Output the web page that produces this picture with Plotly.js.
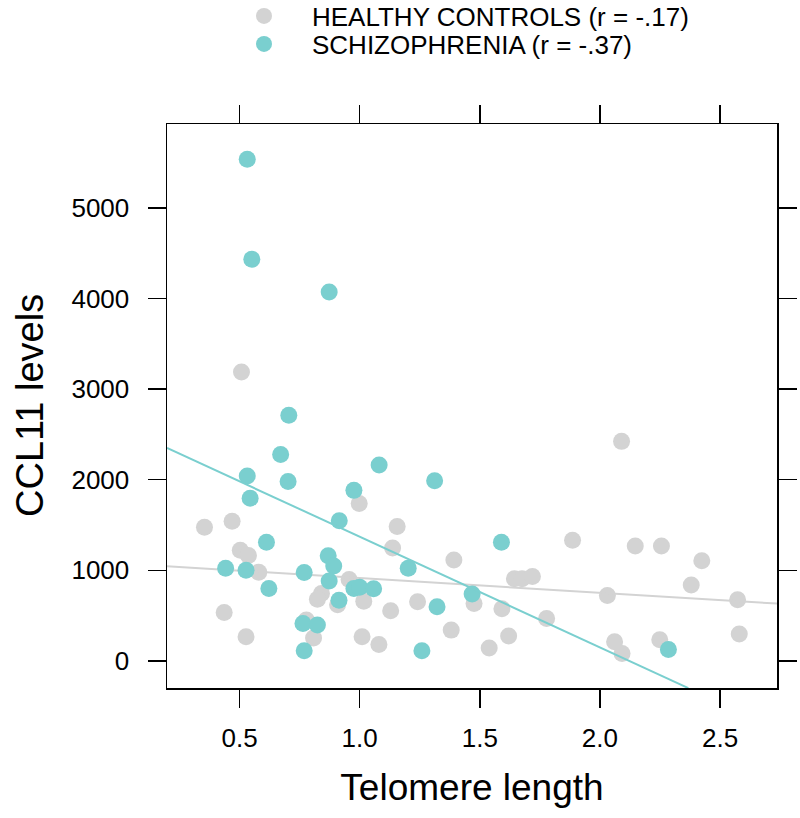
<!DOCTYPE html>
<html>
<head>
<meta charset="utf-8">
<script src="https://cdn.plot.ly/plotly-3.0.1.min.js"></script>
<style>html,body{margin:0;padding:0;background:#fff;}#chart{width:800px;height:818px;}</style>
</head>
<body>
<div id="chart"></div>
<script>
// Healthy controls: telomere length (x) and CCL11 levels (y)
const hcX = [0.508, 2.090, 0.998, 0.354, 0.469, 1.156, 1.137, 1.392, 1.886, 2.147, 2.256, 2.424,
  0.503, 0.537, 0.580, 0.956, 0.841, 0.824, 0.908, 1.017, 1.129, 1.241, 1.476, 1.592, 1.644,
  1.676, 1.719, 1.778, 2.031, 2.380, 2.573, 2.580, 0.436, 0.527, 0.778, 0.808, 1.010, 1.080,
  1.381, 1.539, 1.620, 2.061, 2.092, 2.249];
const hcY = [3188, 2423, 1736, 1474, 1542, 1482, 1246, 1113, 1332, 1267, 1267, 1104,
  1220, 1164, 979, 898, 743, 679, 619, 657, 554, 653, 632, 576, 906,
  906, 932, 468, 722, 838, 674, 296, 533, 266, 451, 253, 266, 180,
  339, 142, 275, 211, 82, 232];

// Schizophrenia: telomere length (x) and CCL11 levels (y)
const szX = [0.532, 0.551, 0.873, 0.705, 0.671, 0.532, 0.702, 1.081, 1.312, 0.976, 0.544,
  0.915, 0.612, 1.590, 0.442, 0.527, 0.769, 0.869, 0.892, 1.202, 0.622, 0.873, 0.976,
  1.000, 1.058, 0.914, 1.468, 1.322, 0.764, 0.824, 0.769, 1.259, 2.285];
const szY = [5538, 4433, 4073, 2711, 2277, 2041, 1980, 2161, 1989, 1882, 1796,
  1547, 1310, 1310, 1022, 1001, 975, 1160, 1048, 1022, 799, 881, 799,
  812, 795, 670, 739, 597, 412, 395, 112, 112, 125];

// Fitted regression lines (end points)
const hcFitX = [0.198, 2.737];
const hcFitY = [1044, 632];
const szFitX = [0.198, 2.368];
const szFitY = [2350, -301];

// Axis ticks
const xTicks = [0.5, 1.0, 1.5, 2.0, 2.5];
const xTickText = ['0.5', '1.0', '1.5', '2.0', '2.5'];
const yTicks = [0, 1000, 2000, 3000, 4000, 5000];
const yTickText = ['0', '1000', '2000', '3000', '4000', '5000'];

const seriesNames = ['HEALTHY CONTROLS (r = -.17)', 'SCHIZOPHRENIA (r = -.37)'];
const xTitle = 'Telomere length';
const yTitle = 'CCL11 levels';

const GRAY = '#d3d3d3';
const TEAL = '#7acfcf';
const FONT = '"Liberation Sans", Arial, Helvetica, sans-serif';

const traces = [
  {x: hcX, y: hcY, type: 'scatter', mode: 'markers', name: seriesNames[0], legend: 'legend',
   marker: {color: GRAY, size: 17, line: {width: 0}}, hoverinfo: 'x+y'},
  {x: hcFitX, y: hcFitY, type: 'scatter', mode: 'lines', showlegend: false,
   line: {color: GRAY, width: 2}, hoverinfo: 'skip'},
  {x: szX, y: szY, type: 'scatter', mode: 'markers', name: seriesNames[1], legend: 'legend2',
   marker: {color: TEAL, size: 17, line: {width: 0}}, hoverinfo: 'x+y'},
  {x: szFitX, y: szFitY, type: 'scatter', mode: 'lines', showlegend: false,
   line: {color: TEAL, width: 2}, hoverinfo: 'skip'}
];

const axisCommon = {
  showgrid: false, zeroline: false, showline: true, mirror: 'ticks',
  linecolor: '#000', linewidth: 1.5, ticks: 'outside', ticklen: 18,
  tickwidth: 1.5, tickcolor: '#000', automargin: false, tickangle: 0,
  tickfont: {family: FONT, size: 26, color: '#000'}
};

const legendCommon = {
  xref: 'container', yref: 'container', x: 0.27, xanchor: 'left', yanchor: 'middle',
  orientation: 'v', itemwidth: 86, bgcolor: 'rgba(0,0,0,0)', borderwidth: 0,
  font: {family: FONT, size: 26, color: '#000'},
  itemclick: false, itemdoubleclick: false
};

const layout = {
  width: 800, height: 818,
  paper_bgcolor: '#fff', plot_bgcolor: '#fff',
  margin: {l: 167, r: 23, t: 124, b: 130, autoexpand: false},
  font: {family: FONT, color: '#000'},
  showlegend: true,
  legend: Object.assign({}, legendCommon, {y: 1 - 16 / 818}),
  legend2: Object.assign({}, legendCommon, {y: 1 - 44 / 818}),
  xaxis: Object.assign({}, axisCommon, {
    range: [0.198, 2.737], tickvals: xTicks, ticktext: xTickText,
    ticklabelstandoff: 8,
    title: {text: xTitle, font: {family: FONT, size: 37, color: '#000'}, standoff: 22}
  }),
  yaxis: Object.assign({}, axisCommon, {
    range: [-300, 5927], tickvals: yTicks, ticktext: yTickText,
    ticklabelstandoff: 13
  }),
  annotations: [{
    text: yTitle, xref: 'paper', yref: 'paper', x: (30 - 167) / 610, y: 0.5,
    xanchor: 'center', yanchor: 'middle', textangle: -90, showarrow: false,
    font: {family: FONT, size: 38, color: '#000'}
  }]
};

Plotly.newPlot('chart', traces, layout, {displayModeBar: false, staticPlot: true});
</script>
</body>
</html>
